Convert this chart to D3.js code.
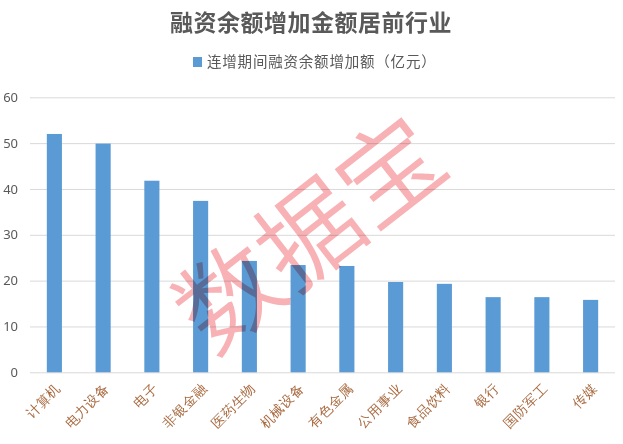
<!DOCTYPE html>
<html><head><meta charset="utf-8">
<script src="https://cdn.jsdelivr.net/npm/d3@7/dist/d3.min.js"></script>
<style>
html,body{margin:0;padding:0;background:#fff;}
svg{display:block;font-family:"Noto Sans CJK SC","Noto Sans",sans-serif;}
</style></head>
<body>
<svg id="c" width="623" height="444"></svg>
<script>
const categories = ["计算机","电力设备","电子","非银金融","医药生物","机械设备","有色金属","公用事业","食品饮料","银行","国防军工","传媒"];
const values = [52.0,49.9,41.8,37.4,24.3,23.4,23.2,19.7,19.3,16.4,16.4,15.8];
const yTicks = [0,10,20,30,40,50,60];
const title = "融资余额增加金额居前行业";
const seriesName = "连增期间融资余额增加额（亿元）";
const watermark = "数据宝";

const svg = d3.select("#c");
const plotLeft = 30, plotRight = 615, plotTop = 97.3, plotBottom = 372.3;

const x = d3.scaleBand().domain(categories).range([plotLeft, plotRight]).paddingInner(0.69).paddingOuter(0.345);
const y = d3.scaleLinear().domain([0, 60]).range([plotBottom, plotTop]);

// gridlines
const yAxis = d3.axisLeft(y).tickValues(yTicks).tickSize(-(plotRight-plotLeft)).tickFormat(d3.format("d")).tickPadding(12);
const gy = svg.append("g").attr("transform", `translate(${plotLeft},0)`).call(yAxis);
gy.select(".domain").remove();
gy.selectAll(".tick line").attr("stroke", "#d9d9d9").attr("stroke-width", 1);
gy.selectAll(".tick text").attr("fill", "#595959").attr("font-size", 13).attr("font-family", "'Noto Sans','DejaVu Sans',sans-serif");

// bars
svg.append("g").selectAll("rect").data(values).join("rect")
  .attr("x", (d,i) => x(categories[i]))
  .attr("width", x.bandwidth())
  .attr("y", d => y(d))
  .attr("height", d => y(0) - y(d))
  .attr("fill", "#5b9bd5");

// x axis labels
const xAxis = d3.axisBottom(x).tickSize(0).tickPadding(0);
const gx = svg.append("g").attr("transform", `translate(0,${plotBottom})`).call(xAxis);
gx.select(".domain").remove();
gx.selectAll(".tick text")
  .attr("fill", "#a8693f")
  .attr("font-size", 13.5)
  .attr("text-anchor", "end")
  .attr("dy", null)
  .attr("y", 0)
  .attr("transform", "translate(7,17) rotate(-45)");

// title
svg.append("text").attr("x", 311).attr("y", 31).attr("text-anchor", "middle")
  .attr("font-size", 23).attr("font-weight", "bold").attr("letter-spacing", 0.5)
  .attr("fill", "#595959").text(title);

// legend
const lg = svg.append("g");
lg.append("rect").attr("x", 193).attr("y", 57).attr("width", 9).attr("height", 10).attr("fill", "#5b9bd5");
lg.append("text").attr("x", 207).attr("y", 66.5).attr("font-size", 14.5).attr("letter-spacing", 0.8).attr("fill", "#595959").text(seriesName);

// watermark
svg.append("text")
  .attr("transform", "translate(305,228) rotate(-38)")
  .attr("text-anchor", "middle").attr("dominant-baseline", "central")
  .attr("font-size", 102).attr("font-weight", 350)
  .attr("fill", "#f8b2b5")
  .style("mix-blend-mode", "multiply")
  .text(watermark);
</script>
</body></html>
